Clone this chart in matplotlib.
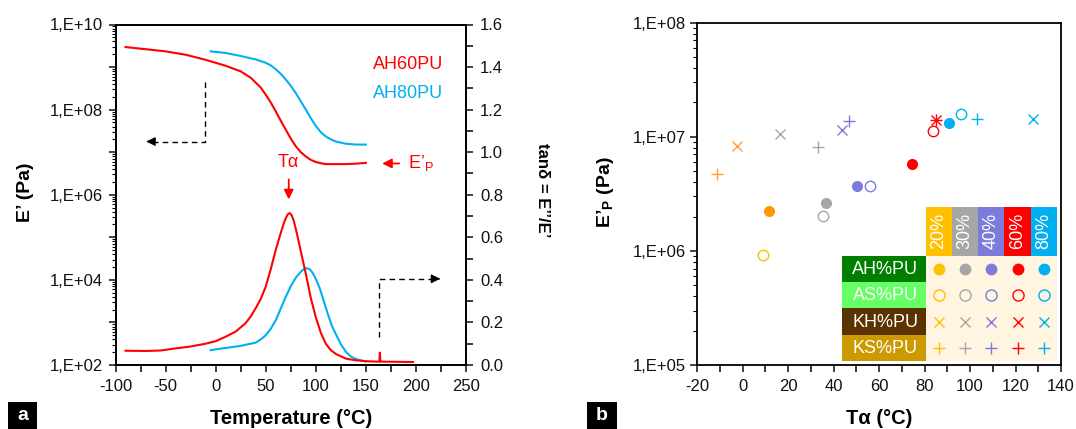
import numpy as np
import matplotlib
matplotlib.use("Agg")
import matplotlib.pyplot as plt
from matplotlib.ticker import LogLocator, FuncFormatter, MultipleLocator, NullFormatter
from matplotlib.patches import Rectangle

plt.rcParams['font.family'] = ['Liberation Sans', 'DejaVu Sans']
plt.rcParams['mathtext.fontset'] = 'custom'
plt.rcParams['mathtext.rm'] = 'Liberation Sans'
plt.rcParams['mathtext.bf'] = 'Liberation Sans:bold'
plt.rcParams['axes.unicode_minus'] = False

# ---------------- data: panel a ----------------
T_E_AH60 = [-90, -70, -50, -30, -10, 0, 10, 25, 35, 45, 50, 55, 60, 65, 70, 75, 80, 85,
            90, 95, 100, 105, 110, 120, 130, 140, 150]
E_AH60 = [2.95e9, 2.63e9, 2.34e9, 1.95e9, 1.48e9, 1.26e9, 1.07e9, 7.94e8, 5.62e8, 3.31e8,
          2.24e8, 1.48e8, 9.12e7, 5.50e7, 3.39e7, 2.09e7, 1.38e7, 1.00e7, 7.94e6, 6.61e6,
          5.89e6, 5.50e6, 5.25e6, 5.25e6, 5.25e6, 5.37e6, 5.62e6]
T_E_AH80 = [-5, 10, 25, 40, 50, 55, 60, 65, 70, 75, 80, 85, 90, 95, 100, 105, 110, 115,
            120, 130, 140, 150]
E_AH80 = [2.34e9, 2.14e9, 1.82e9, 1.51e9, 1.26e9, 1.10e9, 8.91e8, 6.92e8, 5.13e8, 3.63e8,
          2.45e8, 1.58e8, 1.00e8, 6.31e7, 4.17e7, 2.95e7, 2.34e7, 2.00e7, 1.78e7, 1.58e7,
          1.51e7, 1.51e7]
T_tan_AH60 = [-90, -70, -55, -40, -25, -10, 0, 10, 20, 30, 35, 40, 45, 50, 55, 60, 64, 68,
              70, 72, 74, 76, 78, 80, 82.5, 85, 90, 95, 100, 105, 110, 115, 120, 130, 140,
              150, 160, 163.5, 164, 164.5, 180, 197]
tan_AH60 = [0.067, 0.066, 0.068, 0.078, 0.087, 0.100, 0.112, 0.133, 0.157, 0.197, 0.228,
            0.267, 0.310, 0.368, 0.450, 0.540, 0.605, 0.665, 0.690, 0.708, 0.714, 0.703,
            0.678, 0.640, 0.590, 0.535, 0.430, 0.315, 0.225, 0.152, 0.100, 0.070, 0.052,
            0.030, 0.022, 0.018, 0.016, 0.016, 0.058, 0.016, 0.015, 0.014]
T_tan_AH80 = [-5, 10, 25, 40, 45, 50, 55, 60, 65, 70, 75, 80, 85, 88, 91, 94, 97, 100,
              104, 108, 112, 116, 120, 125, 130, 135, 140, 150]
tan_AH80 = [0.070, 0.080, 0.090, 0.105, 0.120, 0.140, 0.170, 0.210, 0.265, 0.320, 0.370,
            0.410, 0.438, 0.450, 0.455, 0.450, 0.432, 0.405, 0.360, 0.300, 0.240, 0.185,
            0.145, 0.098, 0.062, 0.040, 0.028, 0.016]

# ---------------- data: panel b ----------------
percents = ['20%', '30%', '40%', '60%', '80%']
pct_colors = ['#FFC000', '#A6A6A6', '#7B7BDC', '#FF0000', '#00B0F0']
AH_T = [11.4, 36.6, 50.4, 74.6, 90.6]
AH_E = [2.22e6, 2.61e6, 3.70e6, 5.74e6, 1.33e7]
AS_T = [8.9, 35.2, 56.1, 83.8, 95.9]
AS_E = [9.2e5, 2.04e6, 3.72e6, 1.13e7, 1.57e7]
KH_T = [-2.7, 16.4, 43.5, 85.0, 127.8]
KH_E = [8.36e6, 1.05e7, 1.15e7, 1.40e7, 1.43e7]
KS_T = [-11.5, 33.2, 46.9, 85.0, 102.9]
KS_E = [4.72e6, 8.09e6, 1.38e7, 1.40e7, 1.43e7]
series_names = ['AH%PU', 'AS%PU', 'KH%PU', 'KS%PU']
series_colors = ['#007E00', '#66FF66', '#5C3300', '#CC9900']

W, H = 1076, 429
fig = plt.figure(figsize=(W / 100, H / 100), dpi=100)


def px_axes(l, t, r, b):
    return fig.add_axes([l / W, 1 - b / H, (r - l) / W, (b - t) / H])


def sci_fmt(v, pos):
    e = int(round(np.log10(v)))
    return f"1,E+{e:02d}"


RED = '#FF0000'
BLUE = '#00B0F0'
SPW = 1.3
TFS = 12

# ---------------- panel a ----------------
ax = px_axes(115.5, 24.5, 466, 365)
ax2 = ax.twinx()
ax.set_yscale('log')
ax.set_xlim(-100, 250)
ax.set_ylim(1e2, 1e10)
ax2.set_ylim(0, 1.6)

ax.plot(T_E_AH60, E_AH60, color=RED, lw=1.5)
ax.plot(T_E_AH80, E_AH80, color=BLUE, lw=1.5)
ax2.plot(T_tan_AH80, tan_AH80, color=BLUE, lw=1.5)
ax2.plot(T_tan_AH60, tan_AH60, color=RED, lw=1.5)

ax.yaxis.set_major_locator(LogLocator(base=10, numticks=20))
ax.yaxis.set_major_formatter(FuncFormatter(
    lambda v, p: sci_fmt(v, p) if int(round(np.log10(v))) % 2 == 0 else ''))
ax.yaxis.set_minor_locator(LogLocator(base=10, subs=np.arange(2, 10), numticks=100))
ax.yaxis.set_minor_formatter(NullFormatter())
ax.xaxis.set_major_locator(MultipleLocator(50))
ax.xaxis.set_minor_locator(MultipleLocator(25))
ax2.yaxis.set_major_locator(MultipleLocator(0.2))
ax2.yaxis.set_minor_locator(MultipleLocator(0.1))
ax2.yaxis.set_major_formatter(FuncFormatter(lambda v, p: f"{v:.1f}"))

for a in (ax, ax2):
    for s in a.spines.values():
        s.set_linewidth(SPW)
    a.tick_params(which='major', direction='out', length=5, width=1.1, labelsize=TFS,
                  colors='#111111')
    a.tick_params(which='minor', direction='out', length=3, width=0.8)
ax.tick_params(axis='x', which='both', pad=5)
ax.tick_params(axis='x', which='minor', length=5, width=1.1)
ax.tick_params(axis='y', which='major', pad=4)
ax2.tick_params(axis='y', which='minor', length=5, width=1.1)
ax2.tick_params(axis='y', which='major', pad=5)

# annotations
ax.text(227, 10 ** 9.05, 'AH60PU', color=RED, fontsize=13, ha='right', va='center')
ax.text(227, 10 ** 8.37, 'AH80PU', color=BLUE, fontsize=13, ha='right', va='center')
ax2.text(73, 0.95, 'T\u03b1', color=RED, fontsize=13, ha='center', va='center')
ax2.annotate('', xy=(73, 0.765), xytext=(73, 0.885),
             arrowprops=dict(arrowstyle='-|>', color=RED, lw=1.3, mutation_scale=14))
ax2.annotate('', xy=(163.5, 0.947), xytext=(186, 0.947),
             arrowprops=dict(arrowstyle='-|>', color=RED, lw=1.3, mutation_scale=14))
ax2.text(192, 0.947, 'E\u2019$_\\mathregular{P}$', color=RED, fontsize=13,
         ha='left', va='center')

# dashed arrows
ax.plot([-11, -11, -65], [4.4e8, 1.78e7, 1.78e7], color='k', lw=1, ls=(0, (4, 3)))
ax.annotate('', xy=(-72, 1.78e7), xytext=(-64, 1.78e7),
            arrowprops=dict(arrowstyle='-|>', color='k', lw=1, mutation_scale=13))
ax2.plot([163.3, 163.3, 220], [0.133, 0.405, 0.405], color='k', lw=1, ls=(0, (4, 3)))
ax2.annotate('', xy=(227, 0.405), xytext=(219, 0.405),
             arrowprops=dict(arrowstyle='-|>', color='k', lw=1, mutation_scale=13))

fig.text(26 / W, 1 - 192 / H, 'E\u2019 (Pa)', rotation=90, fontsize=14, fontweight='bold',
         ha='center', va='center')
fig.text(543 / W, 1 - 190 / H, 'tan\u03b4 = E\u2019\u2019/E\u2019', rotation=270, fontsize=12,
         fontweight='bold', ha='center', va='center')
fig.text(291 / W, 1 - 418 / H, 'Temperature (\u00b0C)', fontsize=14.5, fontweight='bold',
         ha='center', va='center')

# ---------------- panel b ----------------
bx = px_axes(697.3, 22.7, 1061, 365)
bx.set_yscale('log')
bx.set_xlim(-20, 140)
bx.set_ylim(1e5, 1e8)

ms = 8
c20_fill = ['#FF9900'] + pct_colors[1:]
c20_open = pct_colors
c20_line = ['#FFA030'] + pct_colors[1:]
for i in range(5):
    bx.plot(AH_T[i], AH_E[i], 'o', ms=ms, color=c20_fill[i], mec='none')
    bx.plot(AS_T[i], AS_E[i], 'o', ms=ms - 0.5, mfc='none', mec=c20_open[i], mew=1.0)
    bx.plot(KH_T[i], KH_E[i], 'x', ms=ms - 0.5, color=c20_line[i], mew=1.0)
    bx.plot(KS_T[i], KS_E[i], '+', ms=ms + 0.5, color=c20_line[i], mew=1.0)

bx.yaxis.set_major_locator(LogLocator(base=10, numticks=20))
bx.yaxis.set_major_formatter(FuncFormatter(sci_fmt))
bx.yaxis.set_minor_locator(LogLocator(base=10, subs=np.arange(2, 10), numticks=100))
bx.yaxis.set_minor_formatter(NullFormatter())
bx.xaxis.set_major_locator(MultipleLocator(20))
bx.xaxis.set_minor_locator(MultipleLocator(10))
for s in bx.spines.values():
    s.set_linewidth(SPW)
bx.tick_params(which='major', direction='out', length=5, width=1.1, labelsize=TFS,
               colors='#111111')
bx.tick_params(which='minor', direction='out', length=3, width=0.8)
bx.tick_params(axis='x', which='minor', length=5, width=1.1)
bx.tick_params(axis='x', which='both', pad=5)

fig.text(606 / W, 1 - 192 / H, 'E\u2019$_\\mathbf{P}$ (Pa)', rotation=90, fontsize=14,
         fontweight='bold', ha='center', va='center')
fig.text(879 / W, 1 - 418 / H, 'T\u03b1 (\u00b0C)', fontsize=14.5, fontweight='bold',
         ha='center', va='center')

# legend table (inset axes in pixel units)
tl, tt, tr, tb = 842.3, 206.7, 1057, 361
tx = px_axes(tl, tt, tr, tb)
tx.set_xlim(0, tr - tl)
tx.set_ylim(tb - tt, 0)
tx.axis('off')
lab_w = 83.4
col_w = (tr - tl - lab_w) / 5
head_h = 49.0
row_h = (tb - tt - head_h) / 4
tx.add_patch(Rectangle((lab_w, head_h), 5 * col_w, 4 * row_h, color='#FFF5E1', lw=0))
for j, (p, c) in enumerate(zip(percents, pct_colors)):
    x0 = lab_w + j * col_w
    tx.add_patch(Rectangle((x0, 0), col_w, head_h, color=c, lw=0))
    tx.text(x0 + col_w / 2, head_h / 2, p, rotation=90, color='white', fontsize=13,
            ha='center', va='center')
markers = [dict(marker='o', ms=8.5, fill=True), dict(marker='o', ms=8.5, fill=False),
           dict(marker='x', ms=7, fill=None), dict(marker='+', ms=8.5, fill=None)]
for i, (nm, c) in enumerate(zip(series_names, series_colors)):
    y0 = head_h + i * row_h
    tx.add_patch(Rectangle((0, y0), lab_w, row_h, color=c, lw=0))
    tx.text(lab_w / 2 + 1, y0 + row_h / 2 + 0.5, nm, color='white', fontsize=13,
            ha='center', va='center')
    mk = markers[i]
    for j, pc in enumerate(pct_colors):
        xc = lab_w + (j + 0.5) * col_w
        yc = y0 + row_h / 2
        if mk['fill'] is True:
            tx.plot(xc, yc, 'o', ms=mk['ms'], color=pc, mec='none')
        elif mk['fill'] is False:
            tx.plot(xc, yc, 'o', ms=mk['ms'] - 0.5, mfc='none', mec=pc, mew=1.0)
        else:
            tx.plot(xc, yc, mk['marker'], ms=mk['ms'], color=pc, mew=1.0)

# panel letters
for (l, r, t, b, s) in [(8, 37, 402, 429, 'a'), (587, 617, 402, 429, 'b')]:
    fig.patches.append(Rectangle((l / W, 1 - b / H), (r - l) / W, (b - t) / H,
                                 transform=fig.transFigure, color='black', lw=0))
    fig.text((l + r) / 2 / W, 1 - (t + b) / 2 / H, s, color='white', fontsize=14,
             fontweight='bold', ha='center', va='center')

fig.savefig('out.png', dpi=100)
